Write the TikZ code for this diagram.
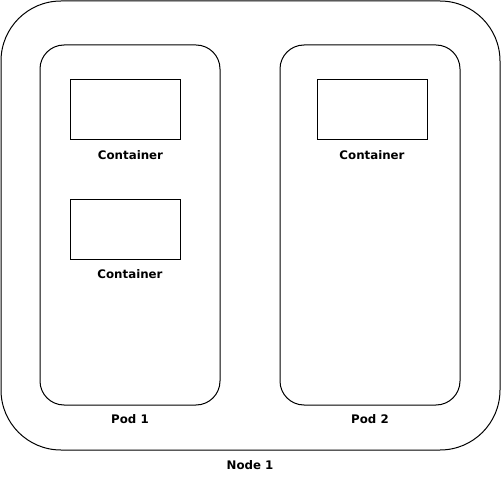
\documentclass[tikz,border=0pt]{standalone}
\usepackage{fontspec}
\setmainfont{DejaVu Sans}
\begin{document}
\begin{tikzpicture}[x=1pt,y=-1pt,
  boxline/.style={draw=black,line width=1pt},
  nodebox/.style={boxline,rounded corners=60pt,minimum width=499pt,minimum height=449pt,inner sep=0pt},
  podbox/.style={boxline,rounded corners=24pt,minimum width=180pt,minimum height=360pt,inner sep=0pt},
  contbox/.style={boxline,minimum width=110pt,minimum height=60pt,inner sep=0pt},
  lbl/.style={font=\fontsize{11.8}{14}\selectfont\bfseries,inner sep=0pt,text=black}
]
\useasboundingbox (0,0) rectangle (501,481);
\node[nodebox] (node1) at (250.5,225.5) {};
\node[podbox] (pod1) at (130,225) {};
\node[podbox] (pod2) at (370,225) {};
\node[contbox] (c1) at (125,110) {};
\node[contbox] (c2) at (125,230) {};
\node[contbox] (c3) at (372,110) {};
\node[lbl] (l1) at (130.5,155) {Container};
\node[lbl] (l2) at (130,274.5) {Container};
\node[lbl] (l3) at (372,155) {Container};
\node[lbl] (lp1) at (130,419) {Pod 1};
\node[lbl] (lp2) at (370,419) {Pod 2};
\node[lbl] (ln1) at (250,465) {Node 1};
\end{tikzpicture}
\end{document}
